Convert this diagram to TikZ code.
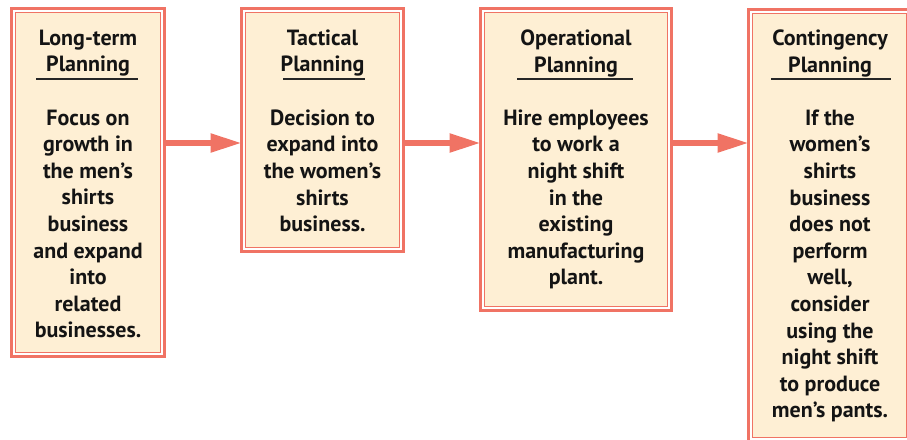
\documentclass[tikz,border=0pt]{standalone}
\usepackage{fontspec}
\setmainfont{PT Sans}
\usetikzlibrary{arrows.meta}
\definecolor{salmon}{RGB}{240,115,100}
\definecolor{cream}{RGB}{254,239,212}
\begin{document}
\begin{tikzpicture}[x=1pt,y=-1pt,
 outerbox/.style={rectangle, draw=salmon, line width=3pt, fill=white, inner sep=0pt, outer sep=0pt},
 innerline/.style={draw=salmon, line width=1.5pt, fill=cream},
 txt/.style={font=\bfseries\fontsize{22}{26.6}\selectfont, align=center, inner sep=0pt, anchor=north, text=black!92},
 uline/.style={line width=2pt, draw=black!85},
 flow/.style={draw=salmon, line width=5.5pt, -{Triangle[length=31pt,width=18pt]}}]
\useasboundingbox (0,0) rectangle (907,439);
\clip (0,0) rectangle (907,439);
\coordinate (lvl) at (0,143);
% boxes
\node[outerbox, minimum width=153pt, minimum height=348pt] (b1) at (88,182.5) {};
\node[outerbox, minimum width=162pt, minimum height=243pt] (b2) at (322.5,130) {};
\node[outerbox, minimum width=191pt, minimum height=302pt] (b3) at (576,159.5) {};
\node[outerbox, minimum width=162pt, minimum height=432pt] (b4) at (829.5,225.5) {};
\foreach \b in {b1,b2,b3,b4}{
  \draw[innerline] ([xshift=4pt,yshift=-4pt]\b.north west) rectangle ([xshift=-4pt,yshift=4pt]\b.south east);
}
% arrows
\draw[flow] (b1.east |- lvl) -- (b2.west |- lvl);
\draw[flow] (b2.east |- lvl) -- (b3.west |- lvl);
\draw[flow] (b3.east |- lvl) -- (b4.west |- lvl);
% headers
\node[txt] (h1) at (88,29.5) {Long-term\\Planning};
\node[txt] (h2) at (322.5,29.5) {Tactical\\Planning};
\node[txt] (h3) at (576,29.5) {Operational\\Planning};
\node[txt] (h4) at (830,29.5) {Contingency\\Planning};
\draw[uline] (36,79) -- (138,79);
\draw[uline] (283,79) -- (365,79);
\draw[uline] (517,79) -- (633,79);
\draw[uline] (771,79) -- (891,79);
% bodies
\node[txt] (t1) at (88,109.5) {Focus on\\growth in\\the men’s\\shirts\\business\\and expand\\into\\related\\businesses.};
\node[txt] (t2) at (322.5,109.5) {Decision to\\expand into\\the women’s\\shirts\\business.};
\node[txt] (t3) at (576,109.5) {Hire employees\\to work a\\night shift\\in the\\existing\\manufacturing\\plant.};
\node[txt] (t4) at (830,109.5) {If the\\women’s\\shirts\\business\\does not\\perform\\well,\\consider\\using the\\night shift\\to produce\\men’s pants.};
\end{tikzpicture}
\end{document}
